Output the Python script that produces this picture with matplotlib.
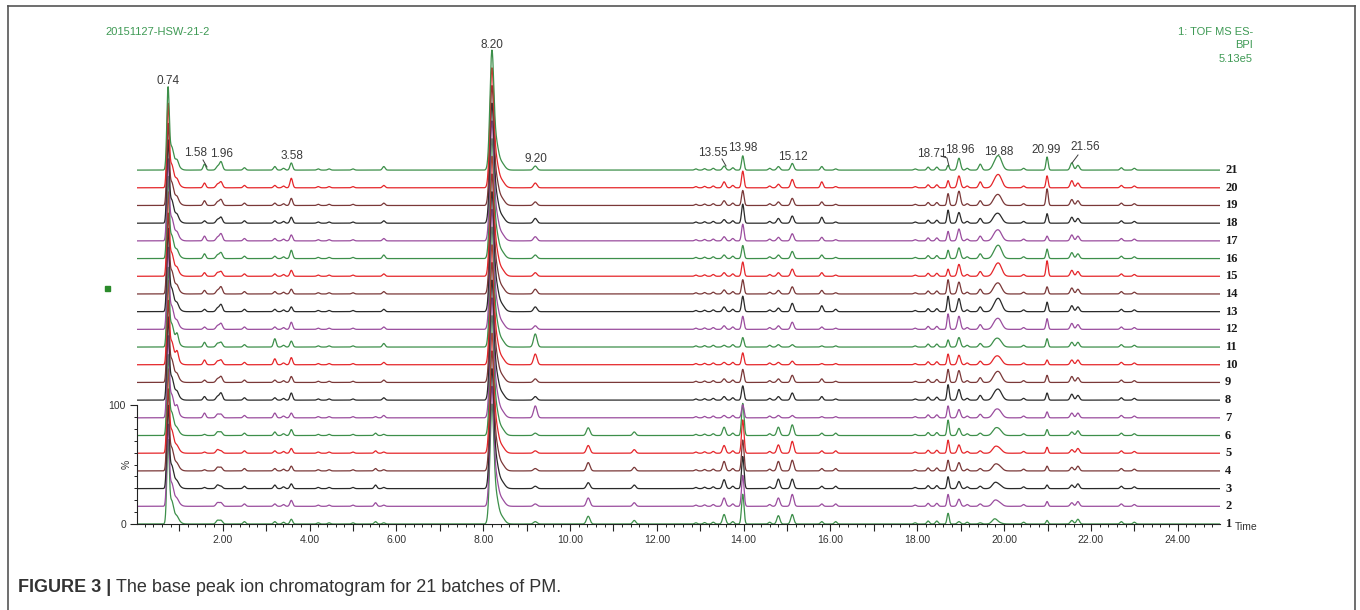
# Stacked base peak ion chromatograms (21 batches), MassLynx style

import numpy as np
import matplotlib.pyplot as plt
from matplotlib.lines import Line2D
from matplotlib.patches import Rectangle
from matplotlib.ticker import MultipleLocator, FixedLocator, FuncFormatter

# ---- data ----
# heights in % of each trace, listed for trace 1 ... trace 21
trace_ids = list(range(1, 22))

h_074 = [68, 66, 67, 66, 68, 65, 66, 67, 66, 68, 64, 66, 67, 65, 68, 66, 66, 67, 66, 68, 67]
h_095 = [1, 1, 1, 1, 1, 1, 5, 2, 2, 6, 6, 2, 2, 2, 2, 2, 2, 2, 2, 2, 3]
h_158 = [0, 0, 1, 1, 1, 1, 4, 3, 2, 4, 4, 2, 2, 3, 3, 4, 4, 2, 4, 4, 5]
h_196 = [3, 3, 2, 3, 2, 3, 3, 6, 5, 4, 4, 5, 6, 6, 4, 5, 6, 5, 5, 5, 7]
h_320 = [2, 2, 3, 2, 2, 3, 4, 2, 2, 5, 7, 2, 2, 2, 2, 2, 2, 2, 2, 2, 3]
h_358 = [4, 5, 4, 4, 4, 5, 4, 6, 5, 6, 5, 6, 4, 4, 5, 7, 5, 5, 6, 8, 6]
h_552 = [2, 3, 3, 2, 2, 2, 1, 0, 0, 0, 0, 0, 0, 0, 0, 0, 0, 0, 0, 0, 0]
h_571 = [1, 1, 1, 1, 1, 1, 2, 2, 2, 2, 3, 2, 2, 2, 2, 3, 2, 2, 2, 2, 3]
h_820 = [98] * 21
h_920 = [2, 2, 2, 2, 2, 2, 10, 3, 3, 9, 11, 3, 4, 4, 3, 3, 3.5, 4, 3, 4, 3.4]
h_1042 = [6.5, 7, 5, 7, 6.5, 6.5, 0, 0, 0, 0, 0, 0, 0, 0, 0, 0, 0, 0, 0, 0, 0]
h_1148 = [3, 3, 3, 3, 3, 3, 0, 0, 0, 0, 0, 0, 0, 0, 0, 0, 0, 0, 0, 0, 0]
h_1355 = [8, 7, 7.5, 8, 6.5, 7, 2, 3, 3, 2, 1.5, 3, 4, 3.4, 3, 3, 3.5, 3, 4, 5, 3.4]
h_1398 = [25, 26, 27, 26, 28, 27, 11, 12, 11, 10, 8, 11, 13, 12, 12, 11, 14, 16, 12.6, 14, 12]
h_1480 = [7, 7, 8, 8, 7, 7, 2, 3, 3, 2, 2, 3, 3, 3, 3, 3, 3, 4, 3, 3, 3]
h_1512 = [8, 10, 8, 9, 10, 9, 2, 6, 6, 3, 2, 6, 7, 6, 6, 6, 6, 6, 6, 7, 5.6]
h_1580 = [2, 2, 2, 2, 2, 2, 1, 3, 3, 1, 1, 2, 5, 3, 3, 3, 3, 5, 3, 5, 3]
h_1612 = [2, 2, 2, 2, 2, 2, 1, 1, 1, 1, 1, 1, 2, 1, 1, 1, 1, 1, 1, 1, 1]
h_1871 = [9, 10, 10, 9, 11, 13, 10, 13, 11, 9, 6, 13, 13, 12, 6, 7, 8, 11, 10, 6, 4]
h_1896 = [2, 6, 6, 7, 7, 6, 7, 9, 10, 8, 8, 11, 11, 10, 10, 9, 10, 9, 12, 10, 10]
h_1945 = [1, 2, 2, 2, 2, 2, 3, 4, 4, 3, 3, 4, 4, 4, 4, 4, 4, 4, 4, 5, 5]
h_1988 = [1, 3, 3, 4, 4, 5, 6, 8, 8, 6, 6, 8, 10, 8, 10, 10, 8, 7, 8, 10, 11]
h_2099 = [3, 4, 3, 4, 5, 5, 5, 6, 6, 4, 7, 9, 8, 6, 13, 8, 4, 8, 14, 10, 11]
h_2156 = [3, 3, 3, 3, 3, 3, 4, 5, 5, 4, 4, 5, 5, 5, 5, 5, 5, 5, 5, 6, 6]

# retention time (min) and width (min) of the peaks above
peak_times = [0.74, 0.95, 1.58, 1.96, 3.20, 3.58, 5.52, 5.71, 8.20, 9.20, 10.42, 11.48,
              13.55, 13.98, 14.80, 15.12, 15.80, 16.12, 18.71, 18.96, 19.45, 19.88, 20.99, 21.56]
peak_sigma = [0.028, 0.03, 0.03, 0.035, 0.03, 0.03, 0.03, 0.03, 0.045, 0.04, 0.04, 0.035,
              0.035, 0.028, 0.035, 0.035, 0.03, 0.03, 0.025, 0.035, 0.035, 0.07, 0.025, 0.035]
peak_heights = [h_074, h_095, h_158, h_196, h_320, h_358, h_552, h_571, h_820, h_920, h_1042, h_1148,
                h_1355, h_1398, h_1480, h_1512, h_1580, h_1612, h_1871, h_1896, h_1945, h_1988, h_2099, h_2156]

# small peaks that look about the same in every trace (incl. tails of the two big peaks)
minor_times = [0.82, 0.90, 1.88, 2.50, 3.40, 4.20, 4.45, 5.00, 8.30, 8.40, 12.90, 13.10, 13.30, 13.75,
               14.60, 17.95, 18.25, 18.45, 19.15, 19.78, 20.45, 21.70, 22.70, 23.00]
minor_heights = [15, 7, 3, 2, 1.5, 1, 1, 1, 18, 7, 1, 1.2, 1.5, 2, 1.5, 1, 2.5, 2.5, 1.5, 4, 1.5, 4, 2, 1.5]
minor_sigma = [0.04, 0.08, 0.035, 0.03, 0.03, 0.03, 0.03, 0.03, 0.05, 0.08, 0.03, 0.03, 0.03, 0.03,
               0.03, 0.03, 0.03, 0.03, 0.03, 0.06, 0.03, 0.035, 0.03, 0.03]

labelled_peaks = ["0.74", "1.58", "1.96", "3.58", "8.20", "9.20", "13.55", "13.98",
                  "15.12", "18.71", "18.96", "19.88", "20.99", "21.56"]

# ---- layout helpers ----
W, H = 1360, 610
PX_PER_MIN, PX_T0 = 43.41, 135.9
PX_Y0, PX_PER_UNIT = 524, 1.19
STEP = 14.87   # vertical offset between traces, in % units


def tx(px):
    return (px - PX_T0) / PX_PER_MIN


def uy(py):
    return (PX_Y0 - py) / PX_PER_UNIT


colors = ["#3d8f4a", "#9a4d9e", "#2a2a2a", "#7a3838", "#e5262a"]

fig = plt.figure(figsize=(W / 100, H / 100), dpi=100)
ax = fig.add_axes([137 / W, 1 - PX_Y0 / H, (1220 - 137) / W, (PX_Y0 - 30) / H])
ax.set_xlim(tx(137), tx(1220))
ax.set_ylim(0, uy(30))

t = np.linspace(0, 25, 8000)
for i in trace_ids:
    y = np.zeros_like(t)
    for pt, ps, ph in zip(peak_times, peak_sigma, peak_heights):
        y += ph[i - 1] * np.exp(-0.5 * ((t - pt) / ps) ** 2)
    for pt, ps, ph in zip(minor_times, minor_sigma, minor_heights):
        y += ph * np.exp(-0.5 * ((t - pt) / ps) ** 2)
    base = (i - 1) * STEP
    c = colors[(i - 1) % 5]
    ax.plot(t, base + y, color=c, lw=0.9, solid_joinstyle="round")
    ax.text(tx(1225), base, str(i), ha="left", va="center", fontsize=9,
            fontweight="bold", family="Liberation Serif", color="#1a1a1a")

# axes look
for s in ["top", "right"]:
    ax.spines[s].set_visible(False)
ax.spines["left"].set_bounds(0, 100)
ax.spines["left"].set_color("#222222")
ax.spines["bottom"].set_color("#222222")
ax.xaxis.set_major_locator(MultipleLocator(1))
ax.xaxis.set_minor_locator(MultipleLocator(0.2))
ax.xaxis.set_major_formatter(FuncFormatter(
    lambda v, p: "%.2f" % v if int(round(v)) % 2 == 0 and v > 0.5 else ""))
ax.yaxis.set_major_locator(FixedLocator([0, 100]))
ax.yaxis.set_minor_locator(FixedLocator(np.arange(10, 100, 10)))
ax.tick_params(axis="both", which="major", length=5, width=0.8, color="#222222",
               labelsize=7.5, labelcolor="#333333", pad=3)
ax.tick_params(axis="both", which="minor", length=2.5, width=0.7, color="#222222")
for lab in ax.get_xticklabels() + ax.get_yticklabels():
    lab.set_family("Liberation Sans")
ax.text(tx(127), 50, "%", rotation=90, ha="center", va="center", fontsize=7.5,
        family="Liberation Sans", color="#333333")
ax.text(tx(1235), uy(527), "Time", ha="left", va="center", fontsize=7.5,
        family="Liberation Sans", color="#333333")

# peak labels (pixel spots of the text in the reference)
label_px = [(168, 81), (196, 153), (222, 154), (292, 156), (492, 45), (536, 159),
            (713, 153), (743, 148), (793, 157), (932, 154), (960, 150), (999, 152),
            (1046, 150), (1085, 147)]
for lab, (px, py) in zip(labelled_peaks, label_px):
    ax.text(tx(px), uy(py), lab, ha="center", va="center", fontsize=8.5,
            family="Liberation Sans", color="#3a3a3a")
leaders = [[(203, 160), (207, 167)], [(722, 159), (726, 166)],
           [(941, 156), (947, 158), (949, 166)], [(1078, 155), (1072, 163)]]
for seg in leaders:
    ax.plot([tx(p[0]) for p in seg], [uy(p[1]) for p in seg], color="#3a3a3a", lw=0.7)

# header texts
green = "#3f9a55"
fig.text(105 / W, 1 - 32 / H, "20151127-HSW-21-2", ha="left", va="center", fontsize=8,
         family="Liberation Sans", color=green)
for k, s in enumerate(["1: TOF MS ES-", "BPI", "5.13e5"]):
    fig.text(1253 / W, 1 - (32 + 13.5 * k) / H, s, ha="right", va="center", fontsize=8,
             family="Liberation Sans", color=green)
fig.add_artist(Rectangle((105 / W, 1 - 291 / H), 5 / W, 5 / H, transform=fig.transFigure,
                         color="#2a8a2a"))

# outer frame (open at the bottom)
frame = dict(transform=fig.transFigure, color="#555555", lw=1.2)
fig.add_artist(Line2D([8 / W, 8 / W], [0, 1 - 6 / H], **frame))
fig.add_artist(Line2D([1355 / W, 1355 / W], [0, 1 - 6 / H], **frame))
fig.add_artist(Line2D([8 / W, 1355 / W], [1 - 6 / H, 1 - 6 / H], **frame))

# caption: bold part, then the rest right after it
cap_y = 1 - 587 / H
bold = fig.text(18 / W, cap_y, "FIGURE 3 |", ha="left", va="center", fontsize=13,
                fontweight="bold", family="Liberation Sans", color="#333333")
fig.canvas.draw()
bb = bold.get_window_extent()
fig.text((bb.x1 + 5) / W, cap_y, "The base peak ion chromatogram for 21 batches of PM.",
         ha="left", va="center", fontsize=13, family="Liberation Sans", color="#333333")

fig.savefig("out.png", dpi=100)
